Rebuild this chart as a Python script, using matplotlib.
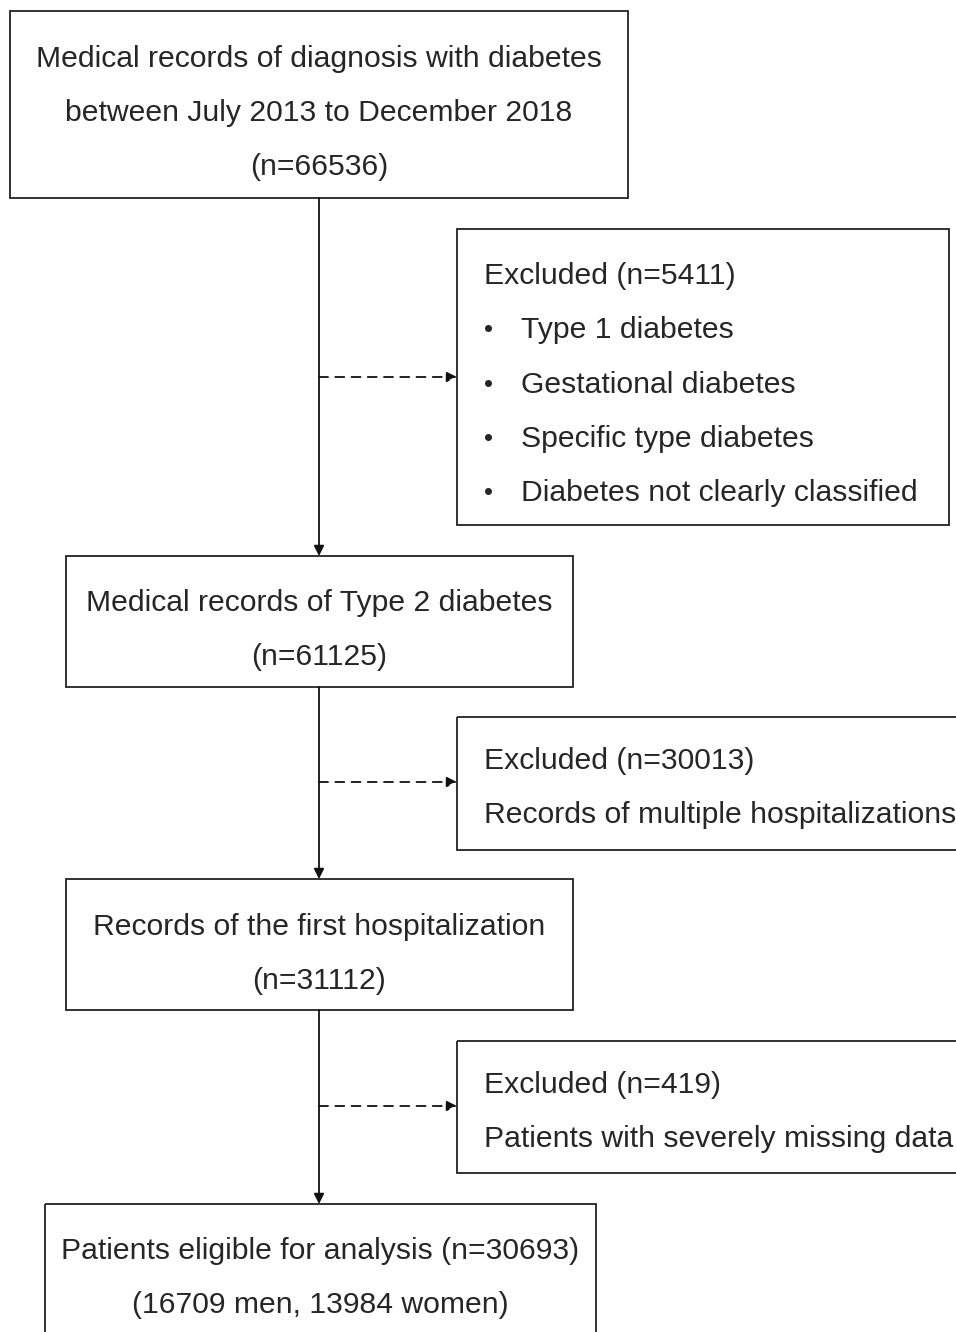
import matplotlib
matplotlib.use("Agg")
import matplotlib.pyplot as plt
from matplotlib.patches import Rectangle

plt.rcParams['font.family'] = ['Liberation Sans', 'DejaVu Sans']

# Data
main_labels = [
    ["Medical records of diagnosis with diabetes", "between July 2013 to December 2018", "(n=66536)"],
    ["Medical records of Type 2 diabetes", "(n=61125)"],
    ["Records of the first hospitalization", "(n=31112)"],
    ["Patients eligible for analysis (n=30693)", "(16709 men, 13984 women)"],
]
excluded_counts = [5411, 30013, 419]
excluded_details = [
    ["Type 1 diabetes", "Gestational diabetes", "Specific type diabetes", "Diabetes not clearly classified"],
    ["Records of multiple hospitalizations"],
    ["Patients with severely missing data"],
]
excluded_bullets = [True, False, False]

# Layout (pixel coordinates)
main_boxes = [(10, 11, 628, 198), (66, 556, 573, 687), (66, 879, 573, 1010), (45, 1204, 596, 1345)]
main_line_y = [[59, 113, 167], [603, 657], [927, 981], [1251, 1305]]
exc_boxes = [(457, 229, 949, 525), (457, 717, 970, 850), (457, 1041, 970, 1173)]
exc_line_y = [[276, 330, 385, 439, 493], [761, 815], [1085, 1139]]
dash_y = [377, 782, 1106]
cx = 319

fig = plt.figure(figsize=(9.56, 13.32), dpi=100)
ax = fig.add_axes([0, 0, 1, 1])
ax.set_xlim(0, 956)
ax.set_ylim(1332, 0)
ax.axis('off')

FS = 21.7
TC = '#262626'
LW = 1.3
EC = '#222222'

for (x0, y0, x1, y1), lines, ys in zip(main_boxes, main_labels, main_line_y):
    ax.add_patch(Rectangle((x0, y0), x1 - x0, y1 - y0, fill=False, ec=EC, lw=LW))
    for t, y in zip(lines, ys):
        ax.text((x0 + x1) / 2, y, t, ha='center', va='center', fontsize=FS, color=TC)

for (x0, y0, x1, y1), n, det, bul, ys in zip(exc_boxes, excluded_counts, excluded_details, excluded_bullets, exc_line_y):
    ax.add_patch(Rectangle((x0, y0), x1 - x0, y1 - y0, fill=False, ec=EC, lw=LW, clip_on=False))
    ax.text(484, ys[0], f"Excluded (n={n})", ha='left', va='center', fontsize=FS, color=TC)
    for t, y in zip(det, ys[1:]):
        if bul:
            ax.text(489, y, "\u2022", ha='center', va='center', fontsize=FS - 3, color=TC)
            ax.text(521, y, t, ha='left', va='center', fontsize=FS, color=TC)
        else:
            ax.text(484, y, t, ha='left', va='center', fontsize=FS, color=TC)

# vertical arrows
for i in range(len(main_boxes) - 1):
    y_start = main_boxes[i][3]
    y_end = main_boxes[i + 1][1]
    ax.annotate("", xy=(cx, y_end), xytext=(cx, y_start),
                arrowprops=dict(arrowstyle='-|>', color='#111111', lw=LW,
                                mutation_scale=15, shrinkA=0, shrinkB=0))

# dashed arrows
for y, box in zip(dash_y, exc_boxes):
    ax.annotate("", xy=(box[0], y), xytext=(cx, y),
                arrowprops=dict(arrowstyle='-|>', color='#111111', lw=LW, linestyle=(0, (5, 4)),
                                mutation_scale=15, shrinkA=0, shrinkB=0))

fig.savefig("out.png", dpi=100)
